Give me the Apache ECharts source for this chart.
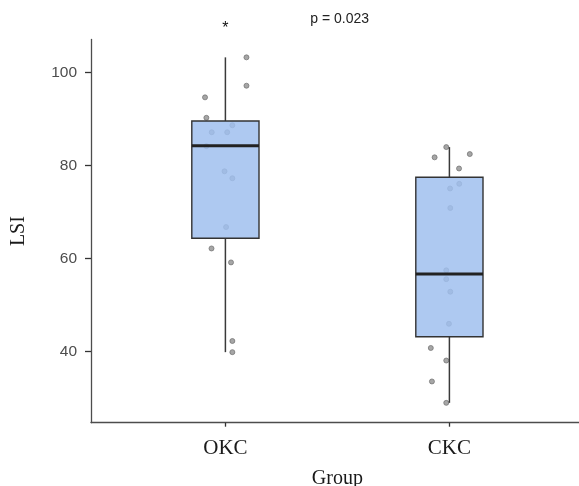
<!DOCTYPE html>
<html>
<head>
<meta charset="utf-8">
<script src="https://cdn.jsdelivr.net/npm/echarts@6/dist/echarts.min.js"></script>
<style>html,body{margin:0;padding:0;background:#fff;overflow:hidden}#c{width:579px;height:486px}</style>
</head>
<body>
<div id="c"></div>
<script>
// ---- data ----
const categories = ['OKC', 'CKC'];
const categoryPos = [1, 2];
const yTicks = [40, 60, 80, 100];
// box stats: [min, Q1, median, Q3, max]
const boxOKC = [39.9, 64.4, 84.3, 89.6, 103.3];
const boxCKC = [29.0, 43.2, 56.7, 77.5, 84.0];
// jittered points: [x, LSI]
const pointsOKC = [
  [1.094, 103.3], [1.094, 97.2], [0.909, 94.7], [0.915, 90.3], [1.031, 88.7],
  [0.939, 87.2], [1.008, 87.2], [0.915, 84.2], [0.996, 78.8], [1.031, 77.3],
  [1.003, 66.8], [0.938, 62.2], [1.025, 59.2], [1.031, 42.3], [1.031, 39.9]
];
const pointsCKC = [
  [1.986, 84.0], [2.091, 82.5], [1.934, 81.8], [2.043, 79.4], [2.044, 76.1],
  [2.003, 75.1], [2.004, 70.9], [1.986, 57.5], [1.986, 55.6], [2.004, 52.9],
  [1.998, 46.0], [1.917, 40.8], [1.986, 38.1], [1.922, 33.6], [1.986, 29.0]
];
const pText = 'p = 0.023';
const sigMark = '*';

const chart = echarts.init(document.getElementById('c'), null, {renderer: 'canvas'});
const boxData = [[categoryPos[0]].concat(boxOKC), [categoryPos[1]].concat(boxCKC)];
const BOX_HALF = 0.15;

chart.setOption({
  animation: false,
  backgroundColor: '#ffffff',
  grid: {left: 91, top: 39.5, width: 492.8, height: 383.2, outerBoundsMode: 'none', containLabel: false},
  xAxis: {
    type: 'value', min: 0.4, max: 2.6,
    name: 'Group', nameLocation: 'middle', nameGap: 46,
    nameTextStyle: {fontFamily: 'Liberation Serif', fontSize: 20, color: '#1a1a1a'},
    axisLine: {show: true, lineStyle: {color: '#4d4d4d', width: 1.3}},
    axisTick: {show: true, length: 4, lineStyle: {color: '#333', width: 1.3}, customValues: categoryPos},
    axisLabel: {
      customValues: categoryPos, margin: 15,
      fontFamily: 'Liberation Serif', fontSize: 21, color: '#1a1a1a',
      formatter: v => categories[categoryPos.indexOf(Math.round(v))] || ''
    },
    splitLine: {show: false}
  },
  yAxis: {
    type: 'value', min: 24.73, max: 107.14,
    name: 'LSI', nameLocation: 'middle', nameGap: 62,
    nameTextStyle: {fontFamily: 'Liberation Serif', fontSize: 20, color: '#1a1a1a'},
    axisLine: {show: true, lineStyle: {color: '#4d4d4d', width: 1.3}},
    axisTick: {show: true, length: 6, lineStyle: {color: '#333', width: 1.3}, customValues: yTicks},
    axisLabel: {
      customValues: yTicks, margin: 14,
      fontFamily: '"Liberation Sans Narrow", "Arial Narrow", "Liberation Sans", sans-serif',
      fontSize: 15.5, color: '#4d4d4d'
    },
    splitLine: {show: false}
  },
  series: [
    {
      type: 'scatter', z: 1,
      data: pointsOKC.concat(pointsCKC),
      symbol: 'circle', symbolSize: 5,
      itemStyle: {color: '#9c9c9c', borderColor: '#707070', borderWidth: 0.8, opacity: 0.9}
    },
    {
      type: 'custom', z: 2,
      data: boxData,
      encode: {x: 0, y: [1, 2, 3, 4, 5]},
      renderItem: function (params, api) {
        const x = api.value(0);
        const mn = api.coord([x, api.value(1)]);
        const q1 = api.coord([x, api.value(2)]);
        const md = api.coord([x, api.value(3)]);
        const q3 = api.coord([x, api.value(4)]);
        const mx = api.coord([x, api.value(5)]);
        const l = api.coord([x - BOX_HALF, api.value(3)])[0];
        const r = api.coord([x + BOX_HALF, api.value(3)])[0];
        return {
          type: 'group',
          children: [
            {type: 'line', shape: {x1: mx[0], y1: mx[1], x2: q3[0], y2: q3[1]}, style: {stroke: '#3a3a3a', lineWidth: 1.5}},
            {type: 'line', shape: {x1: q1[0], y1: q1[1], x2: mn[0], y2: mn[1]}, style: {stroke: '#3a3a3a', lineWidth: 1.5}},
            {type: 'rect', shape: {x: l, y: q3[1], width: r - l, height: q1[1] - q3[1]},
              style: {fill: 'rgba(160,191,238,0.85)', stroke: '#333333', lineWidth: 1.4}},
            {type: 'line', shape: {x1: l, y1: md[1], x2: r, y2: md[1]}, style: {stroke: '#222222', lineWidth: 3}}
          ]
        };
      }
    }
  ]
});

const starPos = chart.convertToPixel({gridIndex: 0}, [categoryPos[0], 109.5]);
const pPos = chart.convertToPixel({gridIndex: 0}, [1.51, 111.6]);
chart.setOption({
  graphic: [
    {type: 'text', x: starPos[0], y: starPos[1], style: {text: sigMark, fontFamily: 'Liberation Sans', fontSize: 16, fill: '#111', align: 'center', verticalAlign: 'middle'}},
    {type: 'text', x: pPos[0], y: pPos[1], style: {text: pText, fontFamily: 'Liberation Sans', fontSize: 14, fill: '#222', align: 'center', verticalAlign: 'middle'}}
  ]
});
</script>
</body>
</html>
